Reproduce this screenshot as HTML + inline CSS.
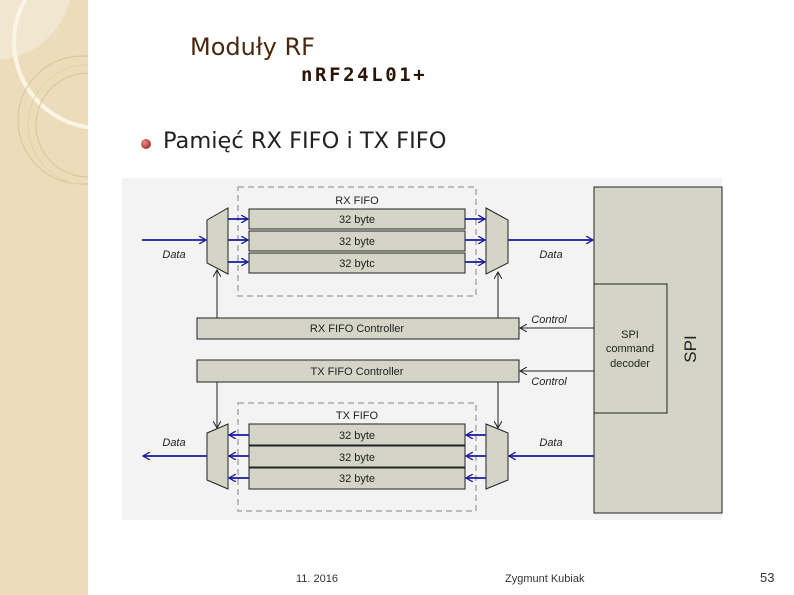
<!DOCTYPE html>
<html><head><meta charset="utf-8"><style>
body{margin:0;width:794px;height:595px;background:#fff;position:relative;overflow:hidden;font-family:"Liberation Sans",sans-serif}
.t{position:absolute;white-space:nowrap}
</style></head><body>
<svg width="88" height="595" style="position:absolute;left:0;top:0">
<rect width="88" height="595" fill="#ecdcba"/>
<path d="M0,0 L70,0 A80,80 0 0 1 0,60 Z" fill="#f1e6cf"/>
<circle cx="100" cy="42" r="86" fill="none" stroke="#fbf5e8" stroke-width="4"/>
<circle cx="82" cy="120" r="64" fill="none" stroke="#d8c49a" stroke-width="1"/>
<circle cx="88" cy="125" r="60" fill="none" stroke="#e4d2aa" stroke-width="1"/>
<circle cx="88" cy="125" r="52" fill="none" stroke="#d8c49a" stroke-width="1"/>
</svg>
<div class="t" style="left:190px;top:33px;font-size:24px;color:#4a2810;font-family:'DejaVu Sans',sans-serif">Moduły RF</div>
<div class="t" style="left:301px;top:64px;font-size:19px;color:#2a1608;font-family:'DejaVu Sans Mono',monospace;font-weight:bold;letter-spacing:2.6px">nRF24L01+</div>
<div style="position:absolute;left:141px;top:139px;width:10px;height:10px;border-radius:50%;background:radial-gradient(circle at 35% 35%,#e88,#901515)"></div>
<div class="t" style="left:163px;top:128px;font-size:22.5px;color:#222;font-family:'DejaVu Sans',sans-serif">Pamięć RX FIFO i TX FIFO</div>
<svg width="794" height="595" style="position:absolute;left:0;top:0" font-family="Liberation Sans" font-size="11">
<defs>
<marker id="a" markerWidth="8" markerHeight="8" refX="7" refY="4" orient="auto" markerUnits="userSpaceOnUse"><path d="M0,0L7,4L0,8" fill="none" stroke="#1a1aa0" stroke-width="1.3"/></marker>
<marker id="k" markerWidth="8" markerHeight="8" refX="7" refY="4" orient="auto" markerUnits="userSpaceOnUse"><path d="M0,0L7,4L0,8" fill="none" stroke="#222" stroke-width="1"/></marker>
</defs>
<rect x="122" y="178" width="600" height="342" fill="#f3f3f3"/>
<g fill="#d4d5c6" stroke="#222" stroke-width="1">
<rect x="594" y="187" width="128" height="326"/>
<rect x="594" y="284" width="73" height="129"/>
<rect x="197" y="318" width="322" height="21"/>
<rect x="197" y="360" width="322" height="22"/>
<rect x="249" y="209" width="216" height="20"/><rect x="249" y="231" width="216" height="20"/><rect x="249" y="253" width="216" height="20"/>
<rect x="249" y="424" width="216" height="21"/><rect x="249" y="446" width="216" height="21"/><rect x="249" y="468" width="216" height="21"/>
<polygon points="207,220 228,208 228,274 207,263"/>
<polygon points="486,208 508,220 508,263 486,274"/>
<polygon points="207,433 228,424 228,489 207,480"/>
<polygon points="486,424 508,433 508,480 486,489"/>
</g>
<g fill="none" stroke="#aaa" stroke-dasharray="6,4" stroke-width="1.5">
<rect x="238" y="187" width="238" height="109"/><rect x="238" y="403" width="238" height="108"/>
</g>
<g stroke="#1a1aa0" stroke-width="1.8" marker-end="url(#a)">
<line x1="142" y1="240" x2="206" y2="240"/>
<line x1="228" y1="219" x2="248" y2="219"/><line x1="228" y1="240" x2="248" y2="240"/><line x1="228" y1="262" x2="248" y2="262"/>
<line x1="465" y1="219" x2="485" y2="219"/><line x1="465" y1="240" x2="485" y2="240"/><line x1="465" y1="262" x2="485" y2="262"/>
<line x1="508" y1="240" x2="593" y2="240"/>
<line x1="207" y1="456" x2="143" y2="456"/>
<line x1="249" y1="435" x2="229" y2="435"/><line x1="249" y1="456" x2="229" y2="456"/><line x1="249" y1="478" x2="229" y2="478"/>
<line x1="486" y1="435" x2="466" y2="435"/><line x1="486" y1="456" x2="466" y2="456"/><line x1="486" y1="478" x2="466" y2="478"/>
<line x1="594" y1="456" x2="509" y2="456"/>
</g>
<g stroke="#222" stroke-width="1" marker-end="url(#k)">
<line x1="217" y1="318" x2="217" y2="270"/>
<line x1="498" y1="318" x2="498" y2="272"/>
<line x1="594" y1="328" x2="520" y2="328"/>
<line x1="594" y1="371" x2="520" y2="371"/>
<line x1="217" y1="382" x2="217" y2="428"/>
<line x1="498" y1="382" x2="498" y2="428"/>
</g>
<g fill="#222" text-anchor="middle">
<text x="357" y="204">RX FIFO</text><text x="357" y="223">32 byte</text><text x="357" y="245">32 byte</text><text x="357" y="267">32 bytc</text>
<text x="357" y="332">RX FIFO Controller</text><text x="357" y="375">TX FIFO Controller</text>
<text x="357" y="419">TX FIFO</text><text x="357" y="439">32 byte</text><text x="357" y="461">32 byte</text><text x="357" y="482">32 byte</text>
<text x="630" y="338">SPI</text><text x="630" y="352">command</text><text x="630" y="367">decoder</text>
<g font-style="italic"><text x="174" y="258">Data</text><text x="551" y="258">Data</text><text x="549" y="323">Control</text><text x="549" y="385">Control</text><text x="174" y="446">Data</text><text x="551" y="446">Data</text></g>
<text x="0" y="0" font-size="17" transform="translate(696,349) rotate(-90)">SPI</text>
</g>
<g fill="#333" font-size="11"><text x="296" y="582">11. 2016</text><text x="505" y="582">Zygmunt Kubiak</text><text x="760" y="582" font-size="13">53</text></g>
</svg>
</body></html>
